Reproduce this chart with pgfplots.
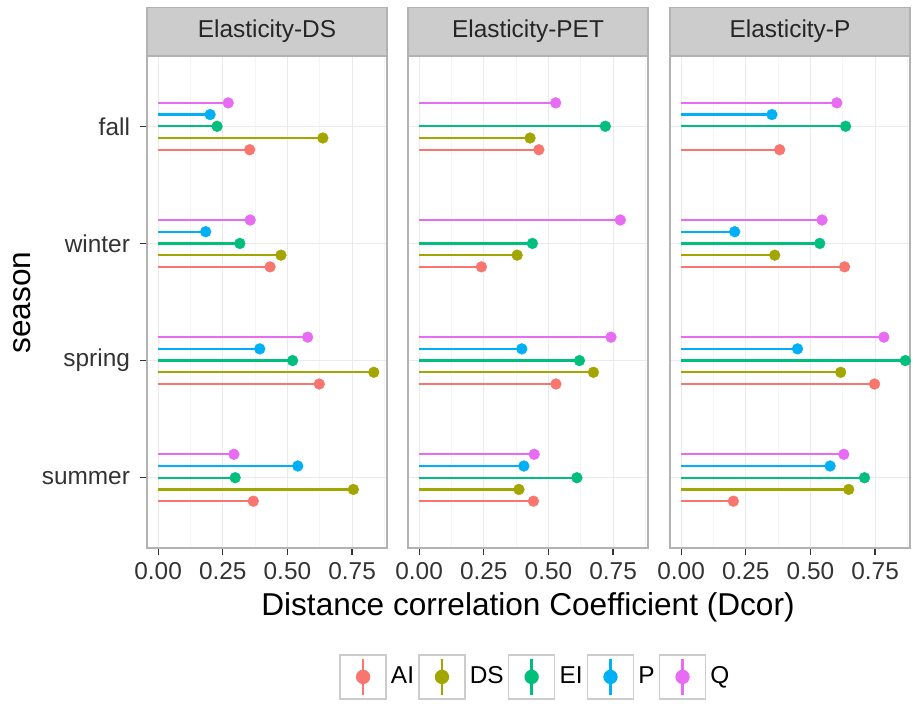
\documentclass[border=0pt]{standalone}
\usepackage{fontspec}
\setmainfont{Liberation Sans}
\usepackage{pgfplots}
\pgfplotsset{compat=1.18}
\definecolor{cAI}{HTML}{F8766D}
\definecolor{cDS}{HTML}{A3A500}
\definecolor{cEI}{HTML}{00BF7D}
\definecolor{cP}{HTML}{00B0F6}
\definecolor{cQ}{HTML}{E76BF3}

% y: summer=1, spring=2, winter=3, fall=4; dodge AI -0.2 ... Q +0.2
\pgfplotsset{
  lolli/.style={xcomb, color=#1, line width=1.15pt, mark=*, mark size=2.7pt,
    mark options={solid, line width=0.2pt, fill=#1},
    legend image code/.code={
      \draw[gray!40, line width=0.7pt, fill=white] (0pt,-11pt) rectangle (23pt,11pt);
      \draw[#1, line width=1.15pt] (11.5pt,-9pt) -- (11.5pt,9pt);
      \fill[#1] (11.5pt,0pt) circle (3pt);
    }},
  panel/.style={
    scale only axis, width=120pt, height=246pt, anchor=south west,
    xmin=-0.043, xmax=0.885, ymin=0.4, ymax=4.6,
    xtick={0,0.25,0.5,0.75}, minor xtick={0.125,0.375,0.625,0.875},
    ytick={1,2,3,4},
    grid=both,
    major grid style={color=black!8, line width=0.5pt},
    minor grid style={color=black!4, line width=0.5pt},
    axis line style={gray!60, line width=0.6pt},
    tick align=outside, tick pos=left,
    major tick length=3.5pt, minor tick length=0pt,
    tick style={black!80, line width=0.6pt},
    xticklabel style={font=\fontsize{12.2}{14}\selectfont, text=black!80,
      /pgf/number format/.cd, fixed, fixed zerofill, precision=2, assume math mode=true},
    yticklabel style={font=\fontsize{12.2}{14}\selectfont, text=black!80, xshift=-1.5pt},
    every axis title/.style={at={(0.5,1)}, anchor=south, draw=gray!60, fill=gray!40,
      line width=0.6pt, minimum width=120pt, minimum height=24pt, inner sep=0pt,
      font=\fontsize{12.2}{14}\selectfont, text=black!85},
  }
}

\begin{document}
\begin{tikzpicture}
\path (-73.5pt,-77pt) rectangle (383pt,274pt);

\begin{axis}[panel, at={(0pt,0pt)}, title={Elasticity-DS},
  yticklabels={summer,spring,winter,fall},
  legend columns=5,
  legend style={at={(1.621,-0.262)}, anchor=center, draw=none, fill=none,
    font=\fontsize{12.2}{14}\selectfont, nodes={inner sep=1.6pt},
    /tikz/every odd column/.append style={column sep=0.5pt},
    /tikz/every even column/.append style={column sep=0.5pt}}]
\addplot[lolli=cAI] coordinates {(0.354,3.8) (0.433,2.8) (0.623,1.8) (0.368,0.8)};
\addlegendentry{AI}
\addplot[lolli=cDS] coordinates {(0.637,3.9) (0.475,2.9) (0.834,1.9) (0.755,0.9)};
\addlegendentry{DS}
\addplot[lolli=cEI] coordinates {(0.228,4.0) (0.316,3.0) (0.520,2.0) (0.298,1.0)};
\addlegendentry{EI}
\addplot[lolli=cP] coordinates {(0.201,4.1) (0.184,3.1) (0.393,2.1) (0.540,1.1)};
\addlegendentry{P}
\addplot[lolli=cQ] coordinates {(0.271,4.2) (0.356,3.2) (0.578,2.2) (0.293,1.2)};
\addlegendentry{Q}
\end{axis}

\begin{axis}[panel, at={(130.5pt,0pt)}, title={Elasticity-PET},
  yticklabels={}, ytick style={draw=none}]
\addplot[lolli=cAI] coordinates {(0.463,3.8) (0.241,2.8) (0.529,1.8) (0.442,0.8)};
\addplot[lolli=cDS] coordinates {(0.429,3.9) (0.379,2.9) (0.674,1.9) (0.386,0.9)};
\addplot[lolli=cEI] coordinates {(0.720,4.0) (0.438,3.0) (0.620,2.0) (0.610,1.0)};
\addplot[lolli=cP] coordinates {(0.397,2.1) (0.405,1.1)};
\addplot[lolli=cQ] coordinates {(0.528,4.2) (0.778,3.2) (0.742,2.2) (0.445,1.2)};
\end{axis}

\begin{axis}[panel, at={(261.5pt,0pt)}, title={Elasticity-P},
  yticklabels={}, ytick style={draw=none}]
\addplot[lolli=cAI] coordinates {(0.381,3.8) (0.632,2.8) (0.748,1.8) (0.202,0.8)};
\addplot[lolli=cDS] coordinates {(0.362,2.9) (0.617,1.9) (0.648,0.9)};
\addplot[lolli=cEI] coordinates {(0.636,4.0) (0.536,3.0) (0.867,2.0) (0.709,1.0)};
\addplot[lolli=cP] coordinates {(0.351,4.1) (0.207,3.1) (0.450,2.1) (0.576,1.1)};
\addplot[lolli=cQ] coordinates {(0.602,4.2) (0.545,3.2) (0.784,2.2) (0.629,1.2)};
\end{axis}

\node[font=\fontsize{15.8}{18}\selectfont] at (190.5pt,-29.5pt) {Distance correlation Coefficient (Dcor)};
\node[rotate=90, font=\fontsize{15.8}{18}\selectfont] at (-62.5pt,122.75pt) {season};
\end{tikzpicture}
\end{document}
